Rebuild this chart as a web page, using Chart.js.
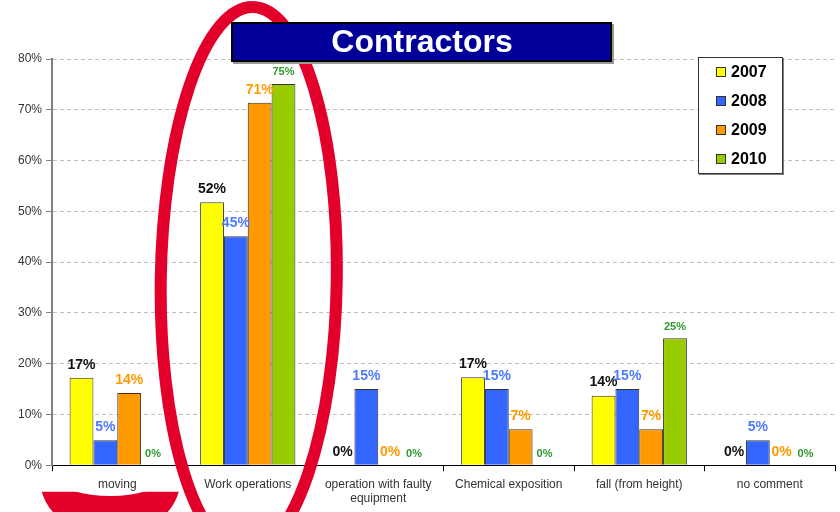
<!DOCTYPE html>
<html>
<head>
<meta charset="utf-8">
<title>Contractors</title>
<script src="https://cdn.jsdelivr.net/npm/chart.js@4.4.1/dist/chart.umd.min.js"></script>
<style>
    body { margin: 0; background: #fff; }
    #wrap { width: 840px; height: 512px; position: relative; }
</style>
</head>
<body>
<div id="wrap"><canvas id="contractorsChart" width="840" height="512"></canvas></div>
<script>
const categories = [
    'moving',
    'Work operations',
    ['operation with faulty', 'equipment'],
    'Chemical exposition',
    'fall (from height)',
    'no comment'
];
const years = ['2007', '2008', '2009', '2010'];
const values2007 = [17.2, 51.8, 0, 17.3, 13.7, 0];
const values2008 = [4.9, 45.1, 15, 15, 15, 4.9];
const values2009 = [14.2, 71.4, 0, 7.1, 7.1, 0];
const values2010 = [0, 75.1, 0, 0, 25, 0];
const yTicks = [0, 10, 20, 30, 40, 50, 60, 70, 80];

const barColors = ['#FFFF00', '#3366FF', '#FF9900', '#99CC00'];
const labelColors = ['#111111', '#4D7AFF', '#FF9900', '#2E9A2E'];

// labels above bars (no datalabels plugin offline)
const barLabels = {
    id: 'barLabels',
    afterDatasetsDraw(chart) {
        const ctx = chart.ctx;
        ctx.save();
        ctx.textAlign = 'center';
        ctx.textBaseline = 'bottom';
        chart.data.datasets.forEach((ds, i) => {
            const meta = chart.getDatasetMeta(i);
            ctx.fillStyle = labelColors[i];
            ctx.font = (i === 3 ? 'bold 11px' : 'bold 14px') + ' "Liberation Sans", Arial, sans-serif';
            meta.data.forEach((bar, j) => {
                const v = ds.data[j];
                ctx.fillText(Math.round(v) + '%', bar.x, bar.y - 6);
            });
        });
        ctx.restore();
    }
};

// red marker ellipses, title box and boxed legend
const overlay = {
    id: 'overlay',
    afterDraw(chart) {
        const ctx = chart.ctx;
        const x = chart.scales.x;
        const cx = x.getPixelForValue(1) + 1;
        ctx.save();
        ctx.strokeStyle = '#E2002A';
        ctx.fillStyle = '#E2002A';
        ctx.lineWidth = 12;
        ctx.beginPath();
        ctx.ellipse(cx, 280, 88, 273, 0.015, 0, Math.PI * 2);
        ctx.stroke();

        // partly hidden ring under "moving"
        const mx = x.getPixelForValue(0) - 7;
        ctx.beginPath();
        ctx.rect(0, 491.7, 840, 30);
        ctx.clip();
        ctx.beginPath();
        ctx.ellipse(mx, 480, 70, 56, 0, 0, Math.PI * 2);
        ctx.moveTo(mx + 50, 480);
        ctx.ellipse(mx, 480, 50, 16, 0, 0, Math.PI * 2);
        ctx.fill('evenodd');
        ctx.restore();

        // title box
        ctx.save();
        ctx.fillStyle = '#999999';
        ctx.fillRect(233, 24, 381, 40);
        ctx.fillStyle = '#000099';
        ctx.fillRect(231, 22, 381, 40);
        ctx.strokeStyle = '#000000';
        ctx.lineWidth = 2;
        ctx.strokeRect(232, 23, 379, 38);
        ctx.fillStyle = '#FFFFFF';
        ctx.font = 'bold 32px "Liberation Sans", Arial, sans-serif';
        ctx.textAlign = 'center';
        ctx.textBaseline = 'middle';
        ctx.fillText('Contractors', 422, 43);
        ctx.restore();

        // legend box
        ctx.save();
        ctx.fillStyle = '#808080';
        ctx.fillRect(699, 58, 85, 117);
        ctx.fillStyle = '#FFFFFF';
        ctx.fillRect(698, 57, 84, 116);
        ctx.strokeStyle = '#333333';
        ctx.lineWidth = 1;
        ctx.strokeRect(698.5, 57.5, 84, 116);
        ctx.font = 'bold 16px "Liberation Sans", Arial, sans-serif';
        ctx.textBaseline = 'middle';
        years.forEach((yr, i) => {
            const y = 72 + i * 29;
            ctx.fillStyle = barColors[i];
            ctx.fillRect(716, y - 5, 10, 10);
            ctx.strokeStyle = '#333333';
            ctx.strokeRect(716.5, y - 4.5, 9, 9);
            ctx.fillStyle = '#000000';
            ctx.fillText(yr, 731, y + 1);
        });
        ctx.restore();
    }
};

const seriesValues = [values2007, values2008, values2009, values2010];

new Chart(document.getElementById('contractorsChart'), {
    type: 'bar',
    data: {
        labels: categories,
        datasets: years.map((yr, i) => ({
            label: yr,
            data: seriesValues[i],
            backgroundColor: barColors[i],
            borderColor: '#333333',
            borderWidth: 1,
            categoryPercentage: 0.73,
            barPercentage: 1
        }))
    },
    options: {
        responsive: false,
        animation: false,
        layout: { padding: { top: 59, left: 14, right: 5, bottom: 0 } },
        plugins: {
            legend: { display: false },
            title: { display: false },
            tooltip: { enabled: false }
        },
        scales: {
            x: {
                grid: {
                    offset: true,
                    drawOnChartArea: false,
                    drawTicks: true,
                    tickLength: 6,
                    color: '#000000'
                },
                border: { color: '#000000', width: 1 },
                ticks: {
                    color: '#333333',
                    font: { size: 12, family: '"Liberation Sans", Arial, sans-serif' },
                    padding: 6,
                    maxRotation: 0,
                    autoSkip: false
                }
            },
            y: {
                min: 0,
                max: 80,
                afterBuildTicks(axis) {
                    axis.ticks = yTicks.map(v => ({ value: v }));
                },
                grid: {
                    color: '#C0C0C0',
                    tickColor: '#808080',
                    tickLength: 6,
                    tickBorderDash: []
                },
                border: { color: '#808080', width: 2, dash: [4, 3] },
                ticks: {
                    color: '#333333',
                    font: { size: 12, family: '"Liberation Sans", Arial, sans-serif' },
                    padding: 4,
                    callback: v => v + '%'
                }
            }
        }
    },
    plugins: [barLabels, overlay]
});
</script>
</body>
</html>
